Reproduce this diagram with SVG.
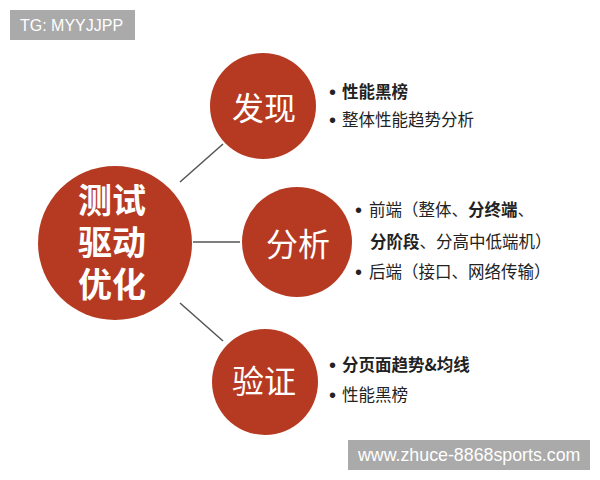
<svg xmlns="http://www.w3.org/2000/svg" width="600" height="480" viewBox="0 0 600 480">
<style>
.c{fill:#b63a22}
.ct{font-family:"Noto Sans CJK SC",sans-serif;fill:#fff;text-anchor:middle;dominant-baseline:central}
.t{font-family:"Noto Sans CJK SC",sans-serif;font-size:16.5px;fill:#222}
.bu{font-family:"Liberation Sans",sans-serif;font-size:20px;fill:#222}
.b{font-weight:bold}
.wm{font-family:"Liberation Sans",Arial,sans-serif;fill:#fff}
.ln{stroke:#555;stroke-width:1.5;fill:none}
</style>
<rect width="600" height="480" fill="#fff"/>
<g id="connectors">
<line class="ln" x1="180" y1="182" x2="223" y2="144"/>
<line class="ln" x1="193" y1="242" x2="240" y2="242"/>
<line class="ln" x1="180" y1="303" x2="223" y2="341"/>
</g>
<g id="main">
<circle class="c" cx="115" cy="243" r="77"/>
<text font-family="Liberation Sans, Noto Sans CJK SC, sans-serif" fill="#fff" text-anchor="middle" font-size="34" font-weight="bold"><tspan x="112" y="213">测试</tspan><tspan x="112" y="255">驱动</tspan><tspan x="112" y="297">优化</tspan></text>
</g>
<g id="faxian">
<circle class="c" cx="263" cy="106" r="53"/>
<text class="ct" x="264" y="106" font-size="32">发现</text>
<text class="bu" x="329" y="99">•</text>
<text class="t b" x="342" y="98">性能黑榜</text>
<text class="bu" x="329" y="127">•</text>
<text class="t" x="342" y="126">整体性能趋势分析</text>
</g>
<g id="fenxi">
<circle class="c" cx="297" cy="242" r="55"/>
<text class="ct" x="298" y="242" font-size="32">分析</text>
<text class="bu" x="355" y="217">•</text>
<text class="t" x="369" y="216">前端（整体、<tspan class="b">分终端</tspan>、</text>
<text class="t" x="370" y="248"><tspan class="b">分阶段</tspan>、分高中低端机）</text>
<text class="bu" x="355" y="279">•</text>
<text class="t" x="369" y="278">后端（接口、网络传输）</text>
</g>
<g id="yanzheng">
<circle class="c" cx="265" cy="382" r="53"/>
<text class="ct" x="264" y="379" font-size="32">验证</text>
<text class="bu" x="329" y="372">•</text>
<text class="t b" x="342" y="371">分页面趋势&amp;均线</text>
<text class="bu" x="329" y="402">•</text>
<text class="t" x="342" y="401">性能黑榜</text>
</g>
<g id="wm1">
<rect x="10" y="10" width="125" height="30" fill="#aaa"/>
<text class="wm" x="20" y="31" font-size="16">TG: MYYJJPP</text>
</g>
<g id="wm2">
<rect x="348" y="440" width="242" height="30" fill="#aaa"/>
<text class="wm" x="358" y="461" font-size="17.8">www.zhuce-8868sports.com</text>
</g>
</svg>
